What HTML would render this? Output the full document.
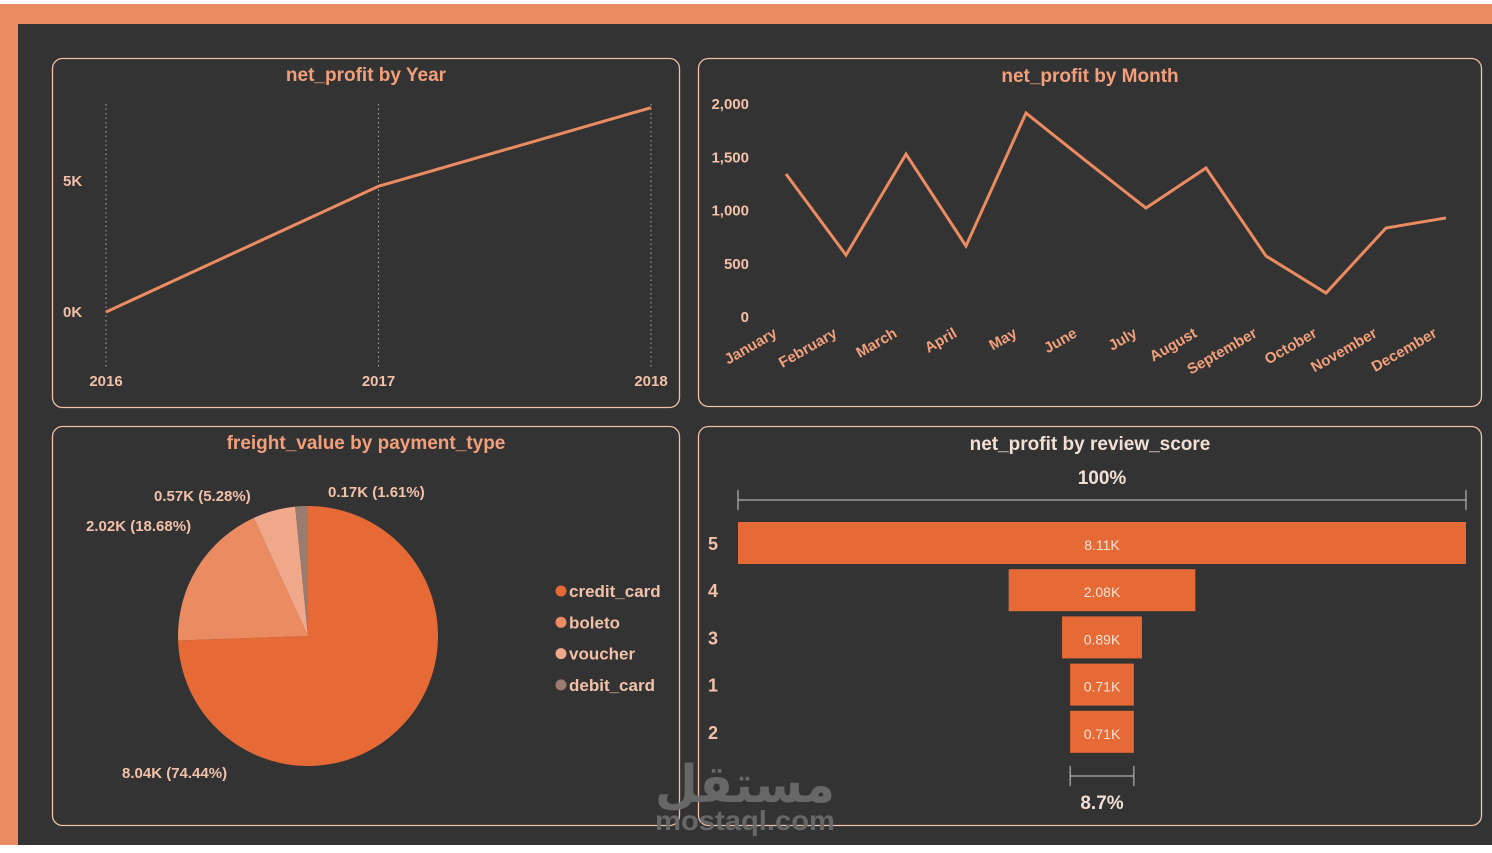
<!DOCTYPE html>
<html><head><meta charset="utf-8"><style>
*{margin:0;padding:0;box-sizing:border-box}
body{width:1492px;height:853px;background:#fff;position:relative;overflow:hidden;font-family:"Liberation Sans",sans-serif}
.abs{position:absolute}
</style></head><body>
<div class="abs" style="left:0;top:4px;width:1492px;height:20px;background:#EA8B61"></div>
<div class="abs" style="left:0;top:4px;width:18px;height:841px;background:#EA8B61"></div>
<div class="abs" style="left:18px;top:24px;width:1474px;height:821px;background:#333"></div>
<svg class="abs" style="left:0;top:0" width="1492" height="853" font-family="'Liberation Sans Narrow','Liberation Sans',sans-serif">
<g fill="none" stroke="#F2C1AA" stroke-width="1.3">
<rect x="52.5" y="58.5" width="627" height="349" rx="10"/>
<rect x="698.5" y="58.5" width="783" height="348" rx="10"/>
<rect x="52.5" y="426.5" width="627" height="399" rx="10"/>
<rect x="698.5" y="426.5" width="783" height="399" rx="10"/>
</g>
<g font-weight="bold" fill="#F2A07C" font-size="19" text-anchor="middle">
<text x="366" y="81">net_profit by Year</text>
<text x="1090" y="82">net_profit by Month</text>
<text x="366" y="449">freight_value by payment_type</text>
<text x="1090" y="450" fill="#F2E0D6">net_profit by review_score</text>
</g>
<g id="year"></g><g id="month"></g><g id="pie"></g><g id="funnel"></g>
<g fill="#6a6a6a" text-anchor="middle" font-weight="bold" font-family="'Liberation Sans',sans-serif" opacity="0.95">
<text x="745" y="802" font-size="52" font-family="'DejaVu Sans',sans-serif" textLength="180" lengthAdjust="spacingAndGlyphs">مستقل</text>
<text x="745" y="830" font-size="28" textLength="180" lengthAdjust="spacingAndGlyphs">mostaql.com</text>
</g>
</svg>
<script>
const NS='http://www.w3.org/2000/svg';
function mk(p,t,a,txt){const e=document.createElementNS(NS,t);for(const k in a)e.setAttribute(k,a[k]);if(txt!==undefined)e.textContent=txt;p.appendChild(e);return e;}
const years=['2016','2017','2018'];
const yearValues=[0.0,4.8,7.8];
const yearTicks=[0,5];
const yearTickLabels=['0K','5K'];
const months=['January','February','March','April','May','June','July','August','September','October','November','December'];
const monthValues=[1343,582,1530,667,1915,1465,1023,1399,573,225,836,930];
const monthTicks=[0,500,1000,1500,2000];
const monthTickLabels=['0','500','1,000','1,500','2,000'];
const payTypes=['credit_card','boleto','voucher','debit_card'];
const payValues=[8.04,2.02,0.57,0.17];
const payLabels=['8.04K (74.44%)','2.02K (18.68%)','0.57K (5.28%)','0.17K (1.61%)'];
const scores=['5','4','3','1','2'];
const scoreValues=[8.11,2.08,0.89,0.71,0.71];
const scoreLabels=['8.11K','2.08K','0.89K','0.71K','0.71K'];
const funnelPercentLabels=['100%','8.7%'];

// Year chart
(function(){const g=document.getElementById('year');
const x=i=>106+i*(651-106)/(years.length-1), y=v=>312-v*26.2;
years.forEach((yr,i)=>{let l=mk(g,'line',{x1:x(i),x2:x(i),y1:104,y2:368,stroke:'#aaa','stroke-dasharray':'1.5 3','stroke-width':1});

let t=mk(g,'text',{x:x(i),y:386,'text-anchor':'middle',fill:'#F2C1AA','font-size':15,'font-weight':'bold'},yr);
});
yearTicks.forEach((v,i)=>{let t=mk(g,'text',{x:63,y:y(v)+5,fill:'#F2C1AA','font-size':15,'font-weight':'bold'},yearTickLabels[i]);
});
let p=mk(g,'polyline',{points:yearValues.map((v,i)=>x(i)+','+y(v)).join(' '),fill:'none',stroke:'#EA8B61','stroke-width':3});
})();

// Month chart
(function(){const g=document.getElementById('month');
const x=i=>786+i*60, y=v=>317-v*0.1065;
monthTicks.forEach((v,i)=>{let t=mk(g,'text',{x:749,y:y(v)+5,'text-anchor':'end',fill:'#F2C1AA','font-size':15,'font-weight':'bold'},monthTickLabels[i]);
});
months.forEach((m,i)=>{let t=mk(g,'text',{x:x(i)-8,y:336,'text-anchor':'end',fill:'#F2A07C','font-size':15,'font-weight':'bold',transform:`rotate(-30 ${x(i)-8} 336)`},m);
});
let p=mk(g,'polyline',{points:monthValues.map((v,i)=>x(i)+','+y(v)).join(' '),fill:'none',stroke:'#EA8B61','stroke-width':3,'stroke-linejoin':'miter'});
})();

// Pie
(function(){const g=document.getElementById('pie');const cx=308,cy=636,r=130;
const cols=['#E56A36','#EA8B61','#F0A88A','#9a7b70'];
const tot=payValues.reduce((a,b)=>a+b,0);let a0=0;
const lblPos=[[122,778],[86,531],[154,501],[328,497]];
payValues.forEach((v,i)=>{const a1=a0+v/tot*Math.PI*2;
const p0=[cx+r*Math.sin(a0),cy-r*Math.cos(a0)],p1=[cx+r*Math.sin(a1),cy-r*Math.cos(a1)];
let s=mk(g,'path',{d:`M${cx},${cy}L${p0[0]},${p0[1]}A${r},${r} 0 ${a1-a0>Math.PI?1:0} 1 ${p1[0]},${p1[1]}Z`,fill:cols[i]});

let t=mk(g,'text',{x:lblPos[i][0],y:lblPos[i][1],fill:'#F2C1AA','font-size':15,'font-weight':'bold'},payLabels[i]);

let c=mk(g,'circle',{cx:561,cy:591+i*31.3,r:5.5,fill:cols[i]});

let lt=mk(g,'text',{x:569,y:597+i*31.3,fill:'#F2C1AA','font-size':17,'font-weight':'bold'},payTypes[i]);

a0=a1;});})();

// Funnel
(function(){const g=document.getElementById('funnel');const cx=1102,maxW=728,max=Math.max(...scoreValues);
const w=v=>v/max*maxW;
let l=mk(g,'path',{d:'M738,490V510M738,500H1466M1466,490V510',stroke:'#ccc',fill:'none','stroke-width':1});

const lw=w(scoreValues[scoreValues.length-1]);
let b=mk(g,'path',{d:`M${cx-lw/2},766V786M${cx-lw/2},776H${cx+lw/2}M${cx+lw/2},766V786`,stroke:'#ccc',fill:'none','stroke-width':1});

let t1=mk(g,'text',{x:cx,y:484,'text-anchor':'middle',fill:'#F2E0D6','font-size':19,'font-weight':'bold'},funnelPercentLabels[0]);

let t2=mk(g,'text',{x:cx,y:809,'text-anchor':'middle',fill:'#F2E0D6','font-size':19,'font-weight':'bold'},funnelPercentLabels[1]);

scoreValues.forEach((v,i)=>{const yc=543+i*47.2;
let r=mk(g,'rect',{x:cx-w(v)/2,y:yc-21,width:w(v),height:42,fill:'#E56A36'});

let t=mk(g,'text',{x:cx,y:yc+7,'text-anchor':'middle',fill:'#F7E3D8','font-size':14,'font-family':"'Liberation Sans',sans-serif"},scoreLabels[i]);

let c=mk(g,'text',{x:708,y:yc+7,fill:'#F2C1AA','font-size':18,'font-weight':'bold','font-family':"'Liberation Sans',sans-serif"},scores[i]);
});})();
</script>
</body></html>
